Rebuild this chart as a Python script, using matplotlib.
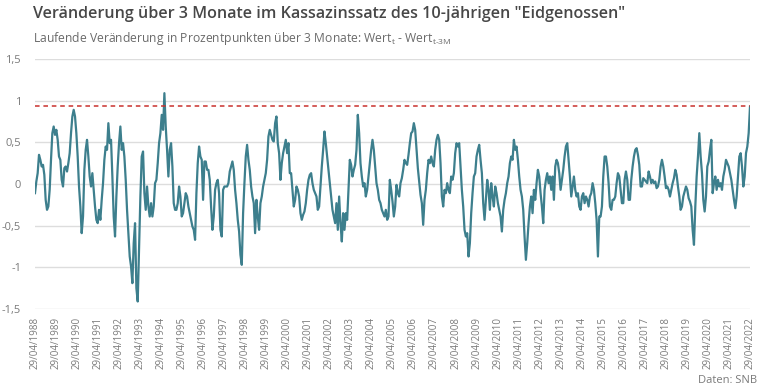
import matplotlib
matplotlib.use("Agg")
import matplotlib.pyplot as plt
import pandas as pd

# 3-Monats-Veraenderung in Prozentpunkten, 29/04/1988 .. 29/04/2022
werte = [
    -0.11, 0.03, 0.13, 0.35, 0.29, 0.21, 0.23, 0.11, -0.19, -0.31, -0.27, -0.07, 0.29, 0.61, 0.69, 0.59,
    0.65, 0.53, 0.33, 0.29, 0.05, -0.03, 0.19, 0.21, 0.15, 0.25, 0.37, 0.61, 0.81, 0.89, 0.81, 0.61,
    0.33, -0.03, -0.27, -0.59, -0.39, 0.17, 0.41, 0.53, 0.33, 0.09, -0.03, 0.13, -0.07, -0.27, -0.43, -0.47,
    -0.31, -0.43, -0.19, 0.01, 0.29, 0.45, 0.41, 0.73, 0.49, 0.53, 0.09, -0.39, -0.63, -0.15, 0.21, 0.49,
    0.69, 0.41, 0.49, 0.33, 0.05, -0.31, -0.59, -0.87, -0.99, -1.19, -0.71, -0.47, -1.25, -1.41, -0.79, -0.15,
    # 1993 - 1999
    0.33, 0.39, -0.11, -0.31, -0.03, -0.27, -0.39, -0.23, -0.39, -0.27, 0.01, 0.05, 0.25, 0.49, 0.61, 0.83,
    0.65, 1.09, 0.69, 0.41, 0.09, 0.41, 0.49, 0.21, -0.23, -0.31, -0.31, -0.23, -0.03, -0.15, -0.39, -0.35,
    -0.23, -0.11, -0.15, -0.27, -0.35, -0.43, -0.51, -0.55, -0.67, -0.11, 0.25, 0.45, 0.33, 0.29, -0.19, 0.27,
    0.27, 0.17, 0.17, 0.05, -0.27, -0.55, -0.39, -0.07, 0.01, 0.05, -0.11, -0.55, -0.63, -0.07, -0.03, -0.03,
    -0.03, 0.01, 0.15, 0.21, 0.27, 0.17, -0.07, -0.23, -0.43, -0.57, -0.85, -0.97, -0.35, 0.01, 0.33, 0.47,
    0.29, 0.17, -0.03, -0.15, -0.23, -0.59, -0.19, -0.39, -0.55, -0.23, -0.15, -0.03, 0.05, 0.13, 0.29, 0.57,
    0.65, 0.59, 0.53, 0.51, 0.73, 0.81, 0.49, 0.37, 0.05,
    # 1999 - 2006
    0.25, 0.37, 0.45, 0.53, 0.37, 0.49, 0.13, 0.13, -0.07, -0.27, -0.19, -0.03, -0.07, -0.15, -0.35, -0.43,
    -0.37, -0.33, -0.23, -0.07, 0.05, 0.11, 0.13, 0.01, -0.07, -0.11, -0.15, -0.31, -0.27, -0.03, 0.21, 0.41,
    0.63, 0.49, 0.33, 0.17, 0.01, -0.15, -0.31, -0.39, -0.47, -0.23, -0.55, -0.15, -0.47, -0.69, -0.35, -0.55,
    -0.35, -0.43, -0.07, 0.29, 0.23, 0.09, 0.17, 0.23, 0.41, 0.83, 0.61, 0.25, 0.09, -0.03, 0.01, -0.15,
    -0.07, 0.09, 0.25, 0.41, 0.53, 0.41, 0.21, 0.01, -0.07, -0.19, -0.23, -0.31, -0.35, -0.39, -0.31, -0.43,
    -0.39, 0.05, -0.07, -0.21, -0.39, -0.27, -0.01, -0.11, -0.15, 0.01, 0.07, 0.17, 0.29, 0.25, 0.23, 0.35,
    0.49, 0.61, 0.63, 0.73, 0.65, 0.41, 0.19, 0.03, -0.13,
    # 2006 - 2013
    -0.23, -0.49, -0.19, -0.07, 0.13, 0.29, 0.25, 0.33, 0.25, 0.21, 0.41, 0.53, 0.59, 0.53, 0.25, -0.15,
    -0.27, -0.07, -0.11, 0.01, -0.07, -0.11, 0.09, 0.05, 0.13, 0.37, 0.49, 0.45, 0.49, 0.21, -0.07, -0.27,
    -0.55, -0.63, -0.59, -0.87, -0.71, -0.35, -0.11, 0.09, 0.13, 0.33, 0.41, 0.47, 0.29, 0.13, -0.23, -0.43,
    -0.19, 0.05, -0.07, -0.31, 0.01, -0.15, -0.27, -0.03, -0.11, -0.23, -0.31, -0.39, -0.57, -0.31, -0.19, -0.11,
    0.01, 0.09, 0.25, 0.33, 0.29, 0.53, 0.41, 0.45, 0.29, 0.09, -0.07, -0.15, -0.31, -0.63, -0.91, -0.71,
    -0.47, -0.27, -0.15, -0.35, -0.07, -0.19, 0.01, 0.17, 0.09, -0.11, -0.27, -0.47, -0.07, 0.05, 0.13, 0.01,
    0.09, -0.07, 0.09, -0.19, 0.21, 0.29, 0.25, 0.13, -0.07,
    # 2013 - 2017
    0.05, 0.17, 0.33, 0.45, 0.49, 0.29, 0.09, -0.15, -0.03, 0.09, -0.07, -0.15, -0.11, -0.27, -0.31, -0.15,
    -0.11, -0.23, -0.15, -0.19, -0.27, -0.15, -0.11, 0.01, -0.07, -0.23, -0.43, -0.87, -0.39, -0.39, -0.27, 0.09,
    0.33, 0.33, 0.21, 0.01, -0.27, -0.31, -0.19, -0.19, -0.15, 0.01, 0.13, 0.09, -0.07, -0.23, -0.23, 0.05,
    0.15, 0.05, -0.19, -0.19, 0.05, 0.21, 0.33, 0.41, 0.43, 0.35, 0.23, -0.03,
    # 2017 - 2022
    -0.03, 0.07, 0.05, 0.03, 0.01, 0.15, 0.09, 0.01, 0.05, 0.01, 0.03, -0.05, -0.03, 0.05, 0.21, 0.29,
    0.21, 0.09, -0.05, -0.03, -0.07, -0.15, -0.07, 0.01, 0.07, 0.17, 0.11, -0.03, -0.15, -0.31, -0.27, -0.15,
    -0.09, -0.03, -0.07, -0.17, -0.21, -0.27, -0.55, -0.73, -0.27, 0.09, 0.33, 0.61, 0.33, 0.13, -0.19, -0.33,
    -0.15, 0.21, 0.27, 0.41, 0.53, -0.11, 0.01, 0.09, -0.07, 0.05, -0.03, 0.01, -0.07, 0.09, 0.17, 0.29,
    0.25, 0.21, 0.13, 0.05, -0.07, -0.19, -0.29, -0.15, 0.09, 0.33, 0.37, 0.21, -0.03, 0.09, 0.37, 0.45,
    0.61, 0.93,
]
start, ende = "1988-04-29", "2022-04-29"
schwelle = 0.93
jahre = list(range(1988, 2023))
y_ticks = [-1.5, -1, -0.5, 0, 0.5, 1, 1.5]

titel = 'Veränderung über 3 Monate im Kassazinssatz des 10-jährigen "Eidgenossen"'
untertitel = (r"Laufende Veränderung in Prozentpunkten über 3 Monate: Wert$_\mathregular{t}$"
              r" - Wert$_\mathregular{t{\text{-}}3M}$")
quelle = "Daten: SNB"

datum = pd.date_range(start, ende, periods=len(werte))

plt.rcParams['font.family'] = ['Open Sans', 'DejaVu Sans']
plt.rcParams['mathtext.fontset'] = 'custom'
plt.rcParams['mathtext.rm'] = 'Open Sans'

fig = plt.figure(figsize=(7.68, 3.88), dpi=100)
ax = fig.add_axes([35 / 768, 1 - 309 / 388, 715 / 768, 250 / 388])

ax.plot(datum, werte, color='#3d7f8d', lw=1.6)
ax.axhline(schwelle, color='#c9302c', lw=1.1, ls=(0, (3, 2.5)))

ax.set_ylim(-1.5, 1.5)
ax.set_xlim(datum[0], datum[-1])
ax.set_yticks(y_ticks)
ax.set_yticklabels([f"{v:g}".replace('.', ',') for v in y_ticks])
ticks = [pd.Timestamp(f"{j}-04-29") for j in jahre]
ax.set_xticks(ticks)
ax.set_xticklabels([t.strftime("%d/%m/%Y") for t in ticks], rotation=90)

ax.grid(axis='y', color='#dddddd', lw=1)
ax.set_axisbelow(True)
for s in ax.spines.values():
    s.set_visible(False)
ax.tick_params(length=0, colors='#7a7a7a', labelsize=7)
ax.tick_params(axis='y', pad=10, labelsize=8)
ax.tick_params(axis='x', pad=6)

fig.text(33 / 768, 1 - 6 / 388, titel, fontsize=11.6, fontweight='semibold', color='#474747', va='top')
fig.text(33 / 768, 1 - 30 / 388, untertitel, fontsize=8.7, color='#6a6a6a', va='top')
fig.text(757 / 768, 1 - 386 / 388, quelle, fontsize=8, color='#7a7a7a', ha='right', va='bottom')

fig.savefig("out.png", dpi=100)
